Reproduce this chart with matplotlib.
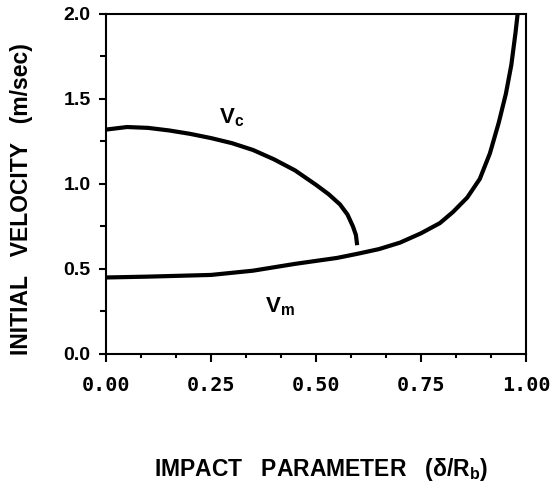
import matplotlib
matplotlib.use("Agg")
import matplotlib.pyplot as plt
from matplotlib.ticker import MultipleLocator, FixedLocator

# === DATA ===
vc_x = [0.0, 0.05, 0.10, 0.15, 0.20, 0.25, 0.30, 0.35, 0.40, 0.45, 0.50,
        0.53, 0.557, 0.575, 0.588, 0.595, 0.598]
vc_y = [1.32, 1.335, 1.33, 1.315, 1.295, 1.27, 1.24, 1.20, 1.145, 1.08, 0.995,
        0.94, 0.88, 0.82, 0.75, 0.70, 0.64]

vm_x = [0.0, 0.10, 0.25, 0.35, 0.45, 0.55, 0.60, 0.65, 0.70, 0.75, 0.795, 0.826,
        0.86, 0.89, 0.914, 0.935, 0.952, 0.965, 0.975, 0.98]
vm_y = [0.45, 0.455, 0.465, 0.49, 0.53, 0.565, 0.59, 0.617, 0.655, 0.71, 0.77, 0.835,
        0.92, 1.03, 1.18, 1.36, 1.53, 1.70, 1.89, 2.0]

x_ticks = [0.0, 0.25, 0.5, 0.75, 1.0]
x_tick_labels = ["0.00", "0.25", "0.50", "0.75", "1.00"]
y_ticks = [0.0, 0.5, 1.0, 1.5, 2.0]
y_tick_labels = ["0.0", "0.5", "1.0", "1.5", "2.0"]

# === STYLE ===
plt.rcParams["font.family"] = ["Liberation Sans", "DejaVu Sans"]
plt.rcParams["font.weight"] = "bold"
plt.rcParams["mathtext.fontset"] = "custom"
plt.rcParams["mathtext.rm"] = "Liberation Sans:bold"
plt.rcParams["mathtext.bf"] = "Liberation Sans:bold"
plt.rcParams["mathtext.it"] = "Liberation Sans:bold"

fig = plt.figure(figsize=(5.59, 4.82), dpi=100)
ax = fig.add_axes([0.1896, 0.2656, 0.7514, 0.7054])

ax.plot(vc_x, vc_y, color="black", lw=3, solid_capstyle="butt")
ax.plot(vm_x, vm_y, color="black", lw=3, solid_capstyle="butt")

ax.text(0.30, 1.39, r"V$_{\mathbf{c}}$", fontsize=16, ha="center", va="center")
ax.text(0.415, 0.28, r"V$_{\mathbf{m}}$", fontsize=16, ha="center", va="center")

ax.set_xlim(0, 1.0)
ax.set_ylim(0, 2.0)

ax.xaxis.set_major_locator(FixedLocator(x_ticks))
ax.set_xticklabels(x_tick_labels, family="DejaVu Sans Mono", weight="bold", fontsize=14.5)
ax.xaxis.set_minor_locator(MultipleLocator(0.25 / 3))
ax.yaxis.set_major_locator(FixedLocator(y_ticks))
ax.set_yticklabels(y_tick_labels, fontsize=14, weight="bold")
ax.yaxis.set_minor_locator(MultipleLocator(0.25))

ax.tick_params(axis="x", which="major", direction="out", length=6, width=1.5, pad=10)
ax.tick_params(axis="x", which="minor", direction="out", length=3, width=1.5)
ax.tick_params(axis="y", which="major", direction="out", length=5, width=1.5, pad=6)
ax.tick_params(axis="y", which="minor", direction="out", length=4, width=1.5)

for s in ax.spines.values():
    s.set_linewidth(1.5)

ax.set_xlabel(r"IMPACT   PARAMETER   (δ/R$_{\mathbf{b}}$)", fontsize=16.5, weight="bold")
ax.xaxis.set_label_coords(0.512, -0.300)
ax.set_ylabel("INITIAL   VELOCITY   (m/sec)", fontsize=16.5, weight="bold")
ax.yaxis.set_label_coords(-0.174, 0.456)

fig.savefig("out.png", dpi=100)
